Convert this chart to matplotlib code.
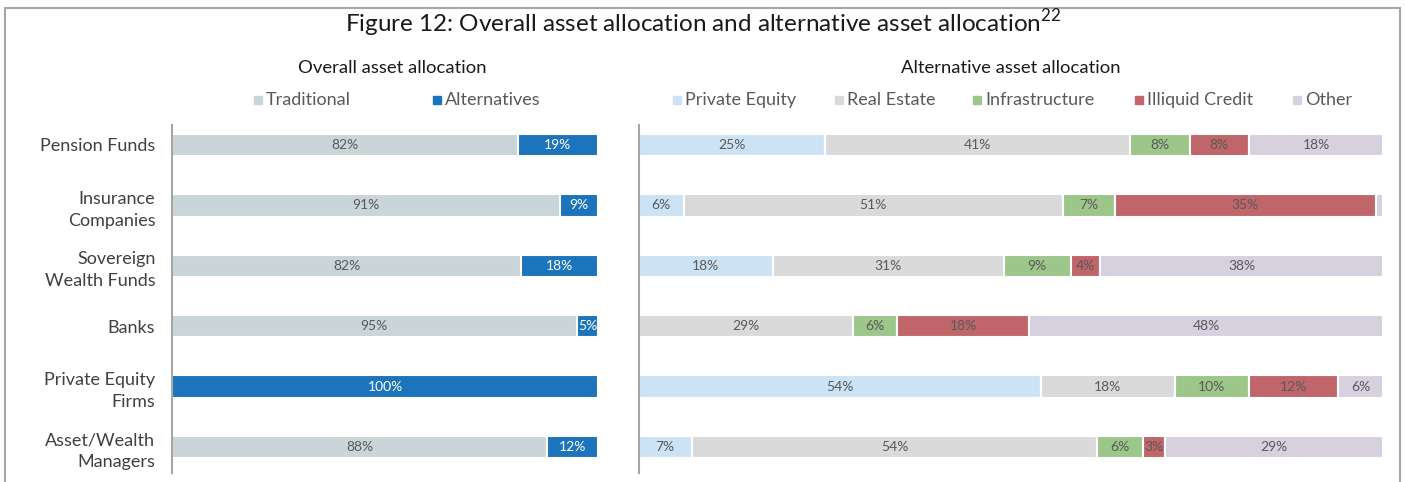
import matplotlib
matplotlib.use("Agg")
import matplotlib.pyplot as plt
from matplotlib.patches import Rectangle
import numpy as np

plt.rcParams['font.family'] = ['Lato', 'DejaVu Sans']
plt.rcParams['mathtext.fontset'] = 'custom'
plt.rcParams['mathtext.rm'] = 'Lato'

categories = ["Pension Funds", "Insurance\nCompanies", "Sovereign\nWealth Funds", "Banks",
              "Private Equity\nFirms", "Asset/Wealth\nManagers"]

overall_series = ["Traditional", "Alternatives"]
traditional = [82, 91, 82, 95, 0, 88]
alternatives = [19, 9, 18, 5, 100, 12]

alt_series = ["Private Equity", "Real Estate", "Infrastructure", "Illiquid Credit", "Other"]
private_equity = [25, 6, 18, 0, 54, 7]
real_estate = [41, 51, 31, 29, 18, 54]
infrastructure = [8, 7, 9, 6, 10, 6]
illiquid_credit = [8, 35, 4, 18, 12, 3]
other = [18, 1, 38, 48, 6, 29]

overall_colors = ["#C9D5D9", "#1C75BC"]
alt_colors = ["#CCE3F5", "#DADADA", "#9DC68A", "#C0666A", "#D7D0DF"]
overall_text = ["#595959", "white"]
alt_text = ["#595959"] * 5

W, H = 1405, 482
fig = plt.figure(figsize=(W / 100, H / 100), dpi=100)

def fx(px):
    return px / W

def fy(py):
    return 1 - py / H

# figure border
fig.patches.append(Rectangle((fx(5), -0.02), fx(1400) - fx(5), fy(8) + 0.02,
                             transform=fig.transFigure, fill=False,
                             edgecolor="#A6A6A6", linewidth=1.5))

fig.text(fx(703), fy(23), "Figure 12: Overall asset allocation and alternative asset allocation$^{22}$",
         ha="center", va="center", fontsize=17.5, color="#1a1a1a")

y = np.arange(len(categories))
bar_h = 0.37


def draw(ax, series_vals, names, colors, tcolors):
    data = np.array(series_vals, dtype=float)
    totals = data.sum(axis=0)
    norm = data / totals * 100
    left = np.zeros(len(categories))
    for vals, raw, name, c, tc in zip(norm, data, names, colors, tcolors):
        cont = ax.barh(y, vals, left=left, height=bar_h, color=c, edgecolor="white",
                       linewidth=1.5, label=name)
        labels = [f"{int(r)}%" if r >= 2 else "" for r in raw]
        ax.bar_label(cont, labels=labels, label_type="center", fontsize=10, color=tc)
        left += vals
    ax.set_xlim(0, 100)
    ax.set_ylim(5.43, -0.33)
    ax.set_xticks([])
    for s in ["top", "right", "bottom"]:
        ax.spines[s].set_visible(False)
    ax.spines["left"].set_color("#A6A6A6")
    ax.spines["left"].set_linewidth(1.5)
    ax.tick_params(axis="y", length=0)


ax1 = fig.add_axes([fx(172), fy(473), fx(598) - fx(172), fy(125) - fy(473)])
draw(ax1, [traditional, alternatives], overall_series, overall_colors, overall_text)
ax1.set_yticks(y)
ax1.set_yticklabels(categories, fontsize=13, color="#404040", linespacing=1.45)
ax1.tick_params(axis="y", pad=12)

ax2 = fig.add_axes([fx(639), fy(473), fx(1383) - fx(639), fy(125) - fy(473)])
draw(ax2, [private_equity, real_estate, infrastructure, illiquid_credit, other],
     alt_series, alt_colors, alt_text)
ax2.set_yticks([])

fig.text(fx(392), fy(68), "Overall asset allocation", ha="center", va="center",
         fontsize=13.3, color="#1a1a1a")
fig.text(fx(1011), fy(68), "Alternative asset allocation", ha="center", va="center",
         fontsize=13.3, color="#1a1a1a")

# legends
def legend_row(names, colors, xs):
    for name, c, x in zip(names, colors, xs):
        fig.patches.append(Rectangle((fx(x - 4), fy(104)), fx(8), 8 / H,
                                     transform=fig.transFigure, color=c))
        fig.text(fx(x + 8), fy(100), name, ha="left", va="center",
                 fontsize=13, color="#595959")

legend_row(overall_series, overall_colors, [258, 437])
legend_row(alt_series, alt_colors, [677, 839, 977, 1139, 1297])

fig.savefig("out.png", dpi=100)
